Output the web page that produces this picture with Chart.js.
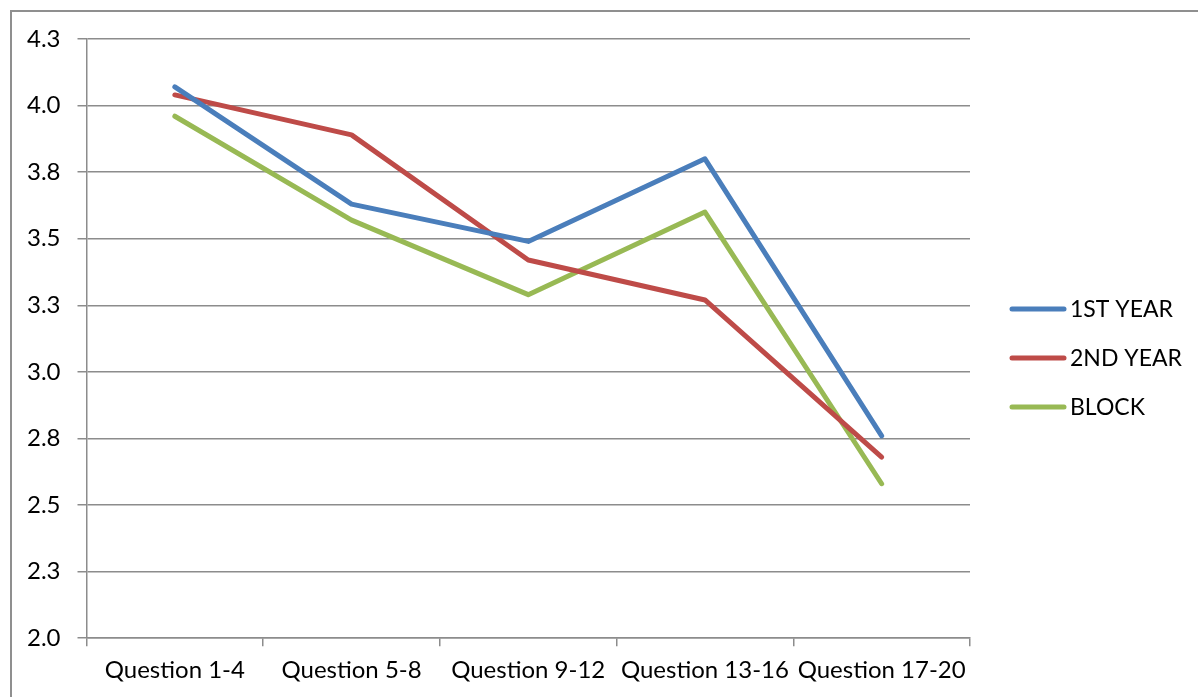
<!DOCTYPE html>
<html>
<head>
<meta charset="utf-8">
<script src="https://cdn.jsdelivr.net/npm/chart.js@4"></script>
<style>
  html, body { margin: 0; padding: 0; background: #fff; overflow: hidden; }
  #frame {
    position: absolute; left: 10px; top: 10px;
    width: 1400px; height: 900px;
    border: 2px solid #8f8f8f;
  }
  #wrap { position: absolute; left: 0; top: 0; width: 1198px; height: 697px; }
</style>
</head>
<body>
<div id="frame"></div>
<div id="wrap"><canvas id="lineChart"></canvas></div>
<script>
const categories = ["Question 1-4", "Question 5-8", "Question 9-12", "Question 13-16", "Question 17-20"];
const firstYear = [4.07, 3.63, 3.49, 3.80, 2.76];
const secondYear = [4.04, 3.89, 3.42, 3.27, 2.68];
const block = [3.96, 3.57, 3.29, 3.60, 2.58];
const seriesNames = ["1ST YEAR", "2ND YEAR", "BLOCK"];
const seriesColors = ["#4a7ebb", "#be4b48", "#98b954"];
const yTickLabels = ["2.0", "2.3", "2.5", "2.8", "3.0", "3.3", "3.5", "3.8", "4.0", "4.3"];

const FONT = "Lato, 'Open Sans', sans-serif";
const gridColor = "#8c8c8c";

// legend drawn to the right like the Excel original
const sideLegend = {
  id: "sideLegend",
  afterDraw(chart) {
    const ctx = chart.ctx;
    ctx.save();
    ctx.font = "23px " + FONT;
    ctx.textBaseline = "middle";
    ctx.fillStyle = "#000";
    chart.data.datasets.forEach((ds, i) => {
      const y = 309 + i * 49;
      ctx.strokeStyle = ds.borderColor;
      ctx.lineWidth = 5;
      ctx.lineCap = "round";
      ctx.beginPath();
      ctx.moveTo(1012, y);
      ctx.lineTo(1064, y);
      ctx.stroke();
      ctx.fillText(ds.label, 1070, y + 1);
    });
    ctx.restore();
  }
};

function makeSet(name, values, color) {
  return {
    label: name,
    data: values,
    borderColor: color,
    backgroundColor: color,
    borderWidth: 5,
    borderJoinStyle: "round",
    borderCapStyle: "round",
    pointRadius: 0,
    tension: 0,
    fill: false
  };
}

new Chart(document.getElementById("lineChart"), {
  type: "line",
  data: {
    labels: categories,
    datasets: [
      makeSet(seriesNames[0], firstYear, seriesColors[0]),
      makeSet(seriesNames[1], secondYear, seriesColors[1]),
      makeSet(seriesNames[2], block, seriesColors[2])
    ]
  },
  options: {
    responsive: true,
    maintainAspectRatio: false,
    animation: false,
    layout: { padding: { left: 10, top: 39, right: 228, bottom: 2 } },
    plugins: {
      legend: { display: false },
      tooltip: { enabled: false }
    },
    scales: {
      x: {
        offset: true,
        grid: {
          offset: true,
          drawOnChartArea: false,
          drawTicks: true,
          tickLength: 8,
          color: gridColor,
          lineWidth: 1.5
        },
        border: { color: gridColor, width: 1.5 },
        ticks: {
          color: "#000",
          font: { family: FONT, size: 24 },
          padding: 10,
          maxRotation: 0,
          autoSkip: false
        }
      },
      y: {
        min: 2,
        max: 4.25,
        grid: {
          color: gridColor,
          lineWidth: 1.5,
          drawTicks: true,
          tickLength: 9
        },
        border: { color: gridColor, width: 1.5 },
        ticks: {
          stepSize: 0.25,
          color: "#000",
          font: { family: FONT, size: 24 },
          padding: 17,
          callback: (v, i) => yTickLabels[i]
        }
      }
    }
  },
  plugins: [sideLegend]
});
</script>
</body>
</html>
